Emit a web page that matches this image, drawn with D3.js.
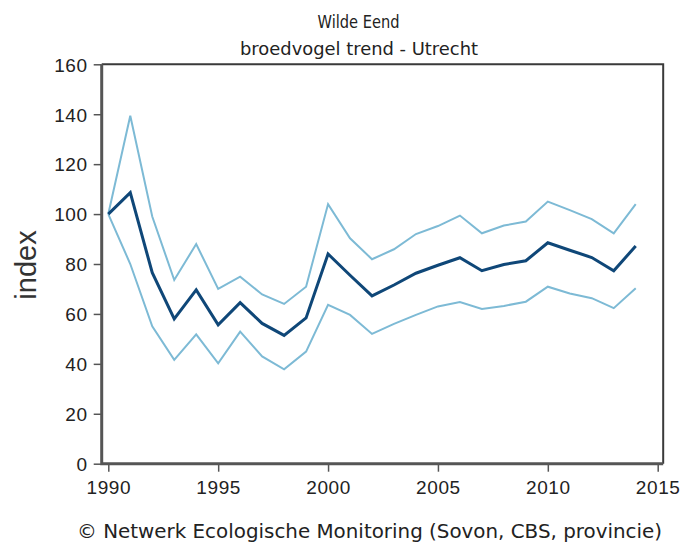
<!DOCTYPE html>
<html>
<head>
<meta charset="utf-8">
<script src="https://cdn.jsdelivr.net/npm/d3@7"></script>
<style>
  body { margin: 0; background: #fff; }
  svg { display: block; }
</style>
</head>
<body>
<div id="chart"></div>
<script>
    var width = 682,
        height = 544;

    // data
    var years = [1990, 1991, 1992, 1993, 1994, 1995, 1996, 1997, 1998, 1999,
                 2000, 2001, 2002, 2003, 2004, 2005, 2006, 2007, 2008, 2009,
                 2010, 2011, 2012, 2013, 2014];
    var trend = [100, 108.6, 76.5, 58, 69.6, 55.6, 64.5, 56.2, 51.4, 58.4,
                 84, 75.5, 67.2, 71.6, 76.3, 79.5, 82.5, 77.3, 79.8, 81.3,
                 88.5, 85.5, 82.6, 77.3, 87.2];
    var upper = [100, 139.4, 99, 73.6, 88, 70, 74.9, 67.8, 64, 70.9,
                 104, 90.3, 81.9, 85.9, 92, 95.2, 99.4, 92.3, 95.4, 97,
                 105, 101.6, 98, 92.3, 104];
    var lower = [100, 80, 55, 41.6, 51.8, 40.2, 52.9, 43, 37.8, 44.9,
                 63.6, 59.6, 52, 56, 59.6, 63, 64.8, 62, 63.2, 64.9,
                 70.9, 68.2, 66.3, 62.3, 70.3];
    var yTicks = [0, 20, 40, 60, 80, 100, 120, 140, 160];
    var xTicks = [1990, 1995, 2000, 2005, 2010, 2015];
    var titleLines = ['Wilde Eend', 'broedvogel trend - Utrecht'];
    var yLabel = 'index';
    var credit = '\u00A9 Netwerk Ecologische Monitoring (Sovon, CBS, provincie)';

    var svg = d3.select('#chart').append('svg')
        .attr('width', width)
        .attr('height', height);

    var x = d3.scaleLinear().domain([1990, 2015]).range([108.3, 657.7]);
    var y = d3.scaleLinear().domain([0, 160]).range([463.7, 64.3]);

    var plotLeft = x(1989.7), plotRight = x(2015.25), plotTop = y(160), plotBottom = y(0);

    // top and right frame
    svg.append('path')
        .attr('d', 'M' + plotLeft + ',' + plotTop + 'H' + plotRight + 'V' + plotBottom)
        .attr('fill', 'none')
        .attr('stroke', '#3a3a3a')
        .attr('stroke-width', 2);

    var tickFont = '"Liberation Sans", Arial, sans-serif';

    var yAxis = svg.append('g')
        .attr('transform', 'translate(' + plotLeft + ',0)')
        .call(d3.axisLeft(y).tickValues(yTicks).tickSize(8).tickPadding(6));
    var xAxis = svg.append('g')
        .attr('transform', 'translate(0,' + plotBottom + ')')
        .call(d3.axisBottom(x).tickValues(xTicks).tickFormat(d3.format('d')).tickSize(8).tickPadding(9));

    [yAxis, xAxis].forEach(function(g){
        g.attr('font-family', null).attr('font-size', null);
        g.select('.domain').remove();
        g.selectAll('line').attr('stroke', '#555').attr('stroke-width', 1.5);
        g.selectAll('text')
            .attr('fill', '#222')
            .style('font-family', tickFont)
            .style('font-size', '19px')
            .style('letter-spacing', '0.6px');
    });
    yAxis.selectAll('text').attr('dy', '0.36em');

    // thick left and bottom axis lines
    svg.append('path')
        .attr('d', 'M' + plotLeft + ',' + plotTop + 'V' + plotBottom + 'H' + plotRight)
        .attr('fill', 'none')
        .attr('stroke', '#555')
        .attr('stroke-width', 3);

    var line = d3.line()
        .x(function(d, i){ return x(years[i]); })
        .y(function(d){ return y(d); });

    [upper, lower].forEach(function(s){
        svg.append('path')
            .datum(s)
            .attr('d', line)
            .attr('fill', 'none')
            .attr('stroke', '#7dbad5')
            .attr('stroke-width', 2);
    });
    svg.append('path')
        .datum(trend)
        .attr('d', line)
        .attr('fill', 'none')
        .attr('stroke', '#0f4778')
        .attr('stroke-width', 3);

    var vfont = '"DejaVu Sans", Verdana, sans-serif';

    svg.append('text')
        .attr('x', 358.5).attr('y', 27.5)
        .attr('text-anchor', 'middle')
        .attr('textLength', 82).attr('lengthAdjust', 'spacingAndGlyphs')
        .style('font-family', vfont).style('font-size', '17px')
        .attr('fill', '#222')
        .text(titleLines[0]);
    svg.append('text')
        .attr('x', 359).attr('y', 54.5)
        .attr('text-anchor', 'middle')
        .attr('textLength', 238).attr('lengthAdjust', 'spacingAndGlyphs')
        .style('font-family', vfont).style('font-size', '17px')
        .attr('fill', '#222')
        .text(titleLines[1]);

    svg.append('text')
        .attr('transform', 'translate(36,265) rotate(-90)')
        .attr('text-anchor', 'middle')
        .style('font-family', tickFont).style('font-size', '29px')
        .attr('fill', '#333')
        .text(yLabel);

    svg.append('text')
        .attr('x', 77).attr('y', 538)
        .attr('textLength', 585).attr('lengthAdjust', 'spacingAndGlyphs')
        .style('font-family', vfont).style('font-size', '19px')
        .attr('fill', '#222')
        .text(credit);
</script>
</body>
</html>
